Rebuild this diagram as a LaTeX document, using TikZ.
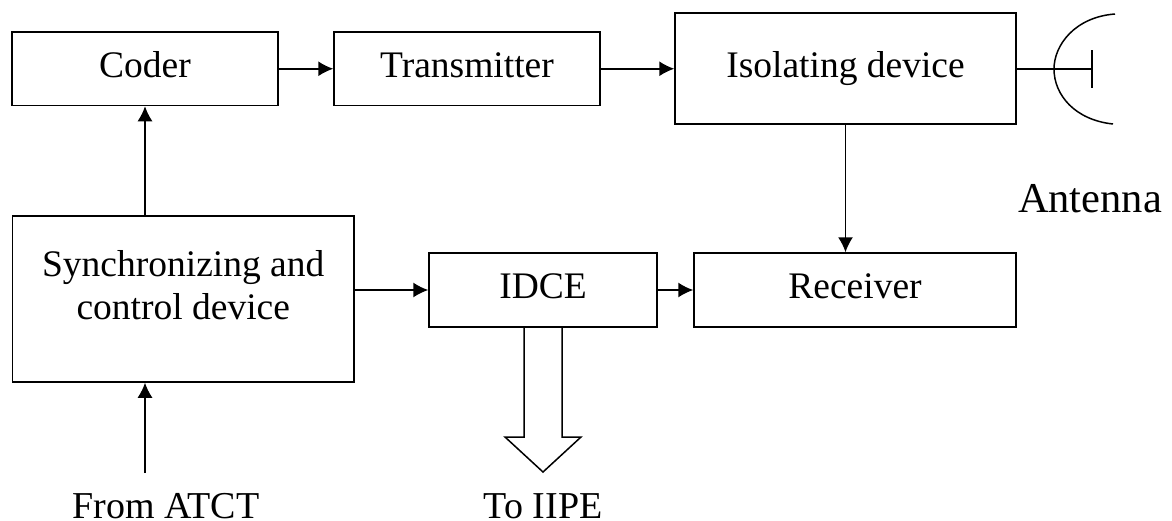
\documentclass[tikz,border=0pt]{standalone}
\usepackage{fontspec}
\setmainfont{Liberation Serif}
\usetikzlibrary{arrows.meta}
\tikzset{
  x=1pt,y=-1pt,
  blockbox/.style={draw=black,line width=1.5pt,fill=white,inner sep=0pt,align=center,font=\fontsize{37.5}{43}\selectfont},
  onebox/.style={blockbox,text height=25pt,text depth=8pt},
  lbl/.style={inner sep=0pt,font=\fontsize{38}{44}\selectfont,anchor=base},
  flow/.style={draw=black,line width=1.5pt,-{Latex[length=15pt,width=15pt]}},
  plain/.style={draw=black,line width=1.5pt}
}
\begin{document}
\begin{tikzpicture}
\useasboundingbox (0,0) rectangle (1172,520);
\node[onebox,minimum width=266pt,minimum height=73.5pt] (coder) at (145,68.75) {Coder};
\node[onebox,minimum width=266pt,minimum height=73.5pt] (tx) at (467,68.75) {Transmitter};
\node[onebox,minimum width=341pt,minimum height=111pt] (iso) at (845.5,68.5) {Isolating device};
\node[blockbox,minimum width=341.5pt,minimum height=166pt] (sync) at (183.25,299) {Synchronizing and\\control device\\[-14pt]\mbox{}};
\node[onebox,minimum width=228pt,minimum height=74pt] (idce) at (543,290) {IDCE};
\node[onebox,minimum width=322pt,minimum height=74pt] (rx) at (855,290) {Receiver};
\node[lbl,font=\fontsize{42.5}{48}\selectfont] (ant) at (1090,212) {Antenna};
\node[lbl] (from) at (166,518) {From ATCT};
\node[lbl] (toi) at (543,518) {To IIPE};
\coordinate (atct) at (145,473);
\coordinate (sn) at (145,216);
\coordinate (anttip) at (1092,69);
\coordinate (t1) at (1092,50);
\coordinate (t2) at (1092,88);
\coordinate (d1) at (1115,14);
\coordinate (d2) at (1113,124);
\coordinate (al) at (524,327);
\coordinate (ar) at (562,327);
\draw[flow] (coder.east) -- (tx.west);
\draw[flow] (tx.east) -- (iso.west |- tx.east);
\draw[flow] (sn) -- (sn |- coder.south);
\draw[flow] (sync.east |- idce.west) -- (idce.west);
\draw[flow] (idce.east) -- (rx.west);
\draw[flow] (iso.south) -- (iso.south |- rx.north);
\draw[flow] (atct) -- (sn |- sync.south);
\draw[plain] (iso.east |- anttip) -- (anttip);
\draw[plain] (t1) -- (t2);
\draw[plain] (d1) .. controls (1075,17) and (1054,45) .. (1054,69) .. controls (1054,95) and (1075,120) .. (d2);
\draw[plain] (al) -- (524,437) -- (505,437) -- (543,472) -- (581,437) -- (562,437) -- (ar);
\end{tikzpicture}
\end{document}
